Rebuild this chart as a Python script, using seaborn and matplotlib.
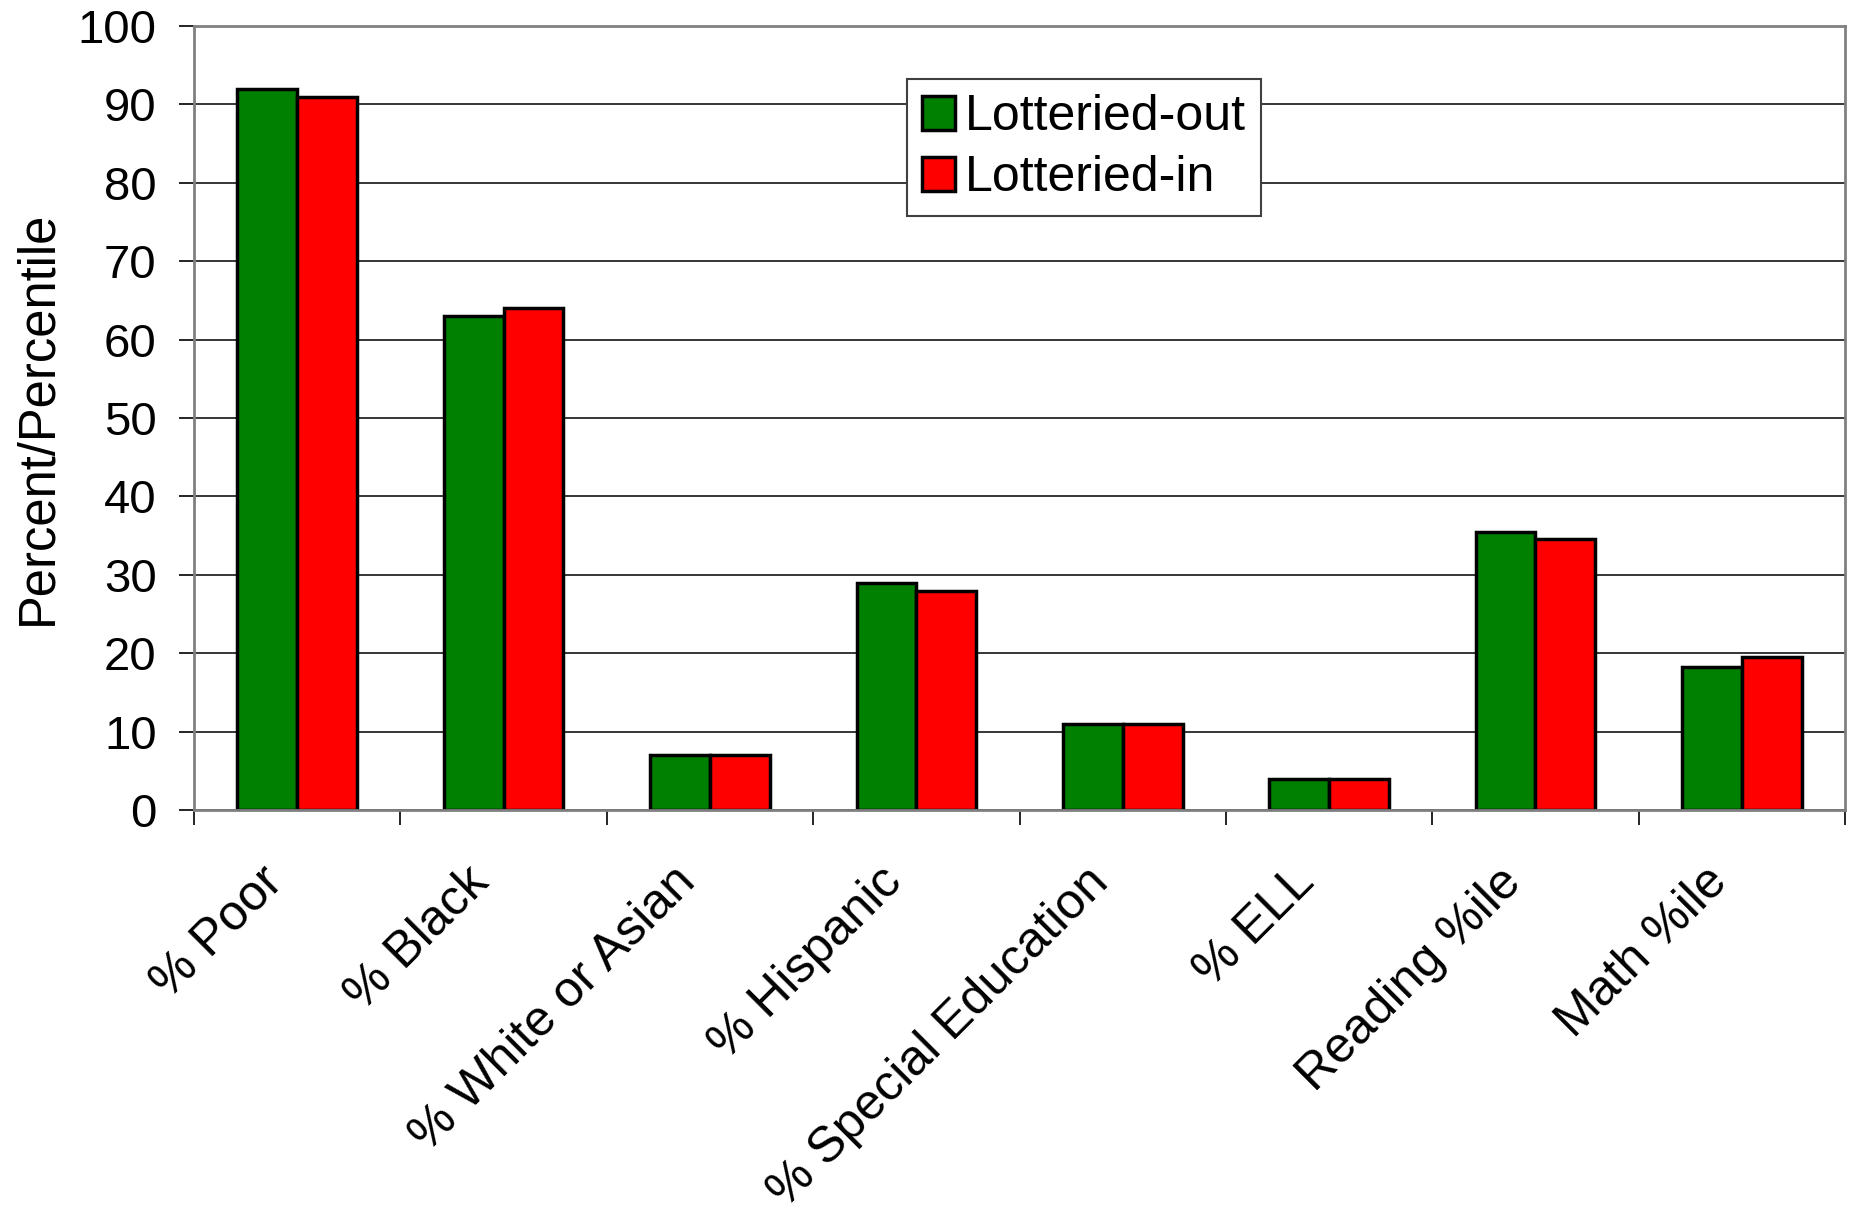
import matplotlib
matplotlib.use("Agg")
import matplotlib.pyplot as plt
import matplotlib.transforms as mtransforms
import pandas as pd
import seaborn as sns
from matplotlib.ticker import FixedLocator

# Baseline characteristics of lottery applicants
categories = ["% Poor", "% Black", "% White or Asian", "% Hispanic",
              "% Special Education", "% ELL", "Reading %ile", "Math %ile"]
lotteried_out = [92, 63, 7, 29, 11, 4, 35.5, 18.2]
lotteried_in = [91, 64, 7, 28, 11, 4, 34.6, 19.5]
groups = ["Lotteried-out", "Lotteried-in"]
y_ticks = [0, 10, 20, 30, 40, 50, 60, 70, 80, 90, 100]

df = pd.DataFrame({
    "category": categories * 2,
    "value": lotteried_out + lotteried_in,
    "group": [groups[0]] * len(categories) + [groups[1]] * len(categories),
})

sns.set_theme(style="white")
plt.rcParams["font.family"] = ["Liberation Sans", "DejaVu Sans"]
plt.rcParams["text.color"] = "black"
plt.rcParams["axes.labelcolor"] = "black"
plt.rcParams["xtick.color"] = "black"
plt.rcParams["ytick.color"] = "black"

fig = plt.figure(figsize=(18.52, 12.15), dpi=100)
ax = fig.add_axes([0.1048, 0.3333, 0.8914, 0.6453])

sns.barplot(data=df, x="category", y="value", hue="group", order=categories,
            hue_order=groups, palette={"Lotteried-out": "#008000", "Lotteried-in": "#FF0000"},
            width=0.58, gap=0, saturation=1, edgecolor="black", linewidth=2.5,
            ax=ax, legend=True)

ax.set_xlim(-0.5, len(categories) - 0.5)
ax.set_ylim(0, 100)
ax.set_yticks(y_ticks)
ax.set_axisbelow(True)
ax.yaxis.grid(True, color="black", linewidth=1.1)
ax.xaxis.grid(False)

for side in ["left", "right", "top", "bottom"]:
    ax.spines[side].set_visible(True)
    ax.spines[side].set_color("#808080")
    ax.spines[side].set_linewidth(2)

# Category labels hang from the group centres, tick marks sit on group boundaries
ax.set_xticks(range(len(categories)))
ax.set_xticklabels(categories, rotation=45, ha="right", va="top",
                   rotation_mode="anchor", fontsize=36, color="black")
ax.tick_params(axis="x", which="major", length=0, pad=35)
shift = mtransforms.ScaledTranslation(-38 / 100, 0, fig.dpi_scale_trans)
for lbl in ax.get_xticklabels():
    lbl.set_transform(lbl.get_transform() + shift)
ax.xaxis.set_minor_locator(FixedLocator([i - 0.5 for i in range(len(categories) + 1)]))
ax.tick_params(axis="x", which="minor", bottom=True, length=11, width=1.2,
               color="black", direction="out")

ax.tick_params(axis="y", which="major", left=True, length=11, width=1.2,
               color="black", direction="out", labelsize=34, pad=16,
               labelcolor="black")

ax.set_xlabel("")
ax.set_ylabel("Percent/Percentile", fontsize=36.5, labelpad=11, color="black")

leg = ax.legend(loc="upper left", bbox_to_anchor=(0.4896, 0.9347),
                bbox_transform=fig.transFigure, borderaxespad=0,
                fontsize=36, frameon=True, fancybox=False, shadow=False,
                handlelength=0.66, handleheight=0.66, handletextpad=0.2,
                borderpad=0.3, labelspacing=0.3)
leg.get_frame().set_edgecolor("#404040")
leg.get_frame().set_linewidth(1.5)
leg.get_frame().set_alpha(1)
for t in leg.get_texts():
    t.set_color("black")

fig.savefig("out.png", dpi=100, facecolor="white")
